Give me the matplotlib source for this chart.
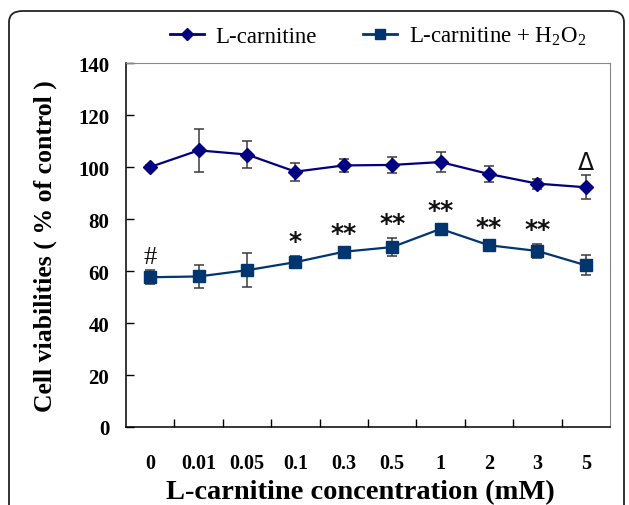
import matplotlib
matplotlib.use("Agg")
import matplotlib.pyplot as plt
from matplotlib.patches import FancyBboxPatch
from matplotlib.lines import Line2D

# ---- data
doses = ["0", "0.01", "0.05", "0.1", "0.3", "0.5", "1", "2", "3", "5"]

lcar_mean = [100.0, 106.4, 104.8, 98.2, 100.6, 100.8, 101.9, 97.3, 93.6, 92.2]
lcar_err = [0.8, 8.4, 5.2, 3.5, 2.5, 3.2, 3.7, 3.0, 1.9, 4.6]

h2o2_mean = [57.6, 57.9, 60.3, 63.4, 67.4, 69.2, 76.2, 69.9, 67.7, 62.2]
h2o2_err = [2.6, 4.3, 6.6, 2.4, 1.6, 3.6, 1.6, 1.4, 2.7, 3.8]

# significance marks above each point
h2o2_marks = ["#", "", "", "*", "**", "**", "**", "**", "**", ""]
lcar_marks = ["", "", "", "", "", "", "", "", "", "\u0394"]

plt.rcParams["font.family"] = ["Liberation Serif", "DejaVu Serif"]
plt.rcParams["mathtext.fontset"] = "custom"
plt.rcParams["mathtext.rm"] = "Liberation Serif"

C_LCAR = "#000080"
C_H2O2 = "#003570"
C_ERR = "#3a3a3a"

fig = plt.figure(figsize=(6.29, 5.06), dpi=100)

# rounded outer frame (runs off the bottom of the picture)
W, H = 629.0, 506.0
frame = FancyBboxPatch((9 / W, -0.05), (624 - 9) / W, (H - 12) / H + 0.05,
                       boxstyle="round,pad=0,rounding_size=0.022",
                       transform=fig.transFigure, fill=False,
                       edgecolor="#222222", linewidth=1.3, clip_on=False)
fig.patches.append(frame)

ax = fig.add_axes([126 / W, 1 - 428 / H, (610 - 126) / W, (428 - 64) / H])

x = list(range(len(doses)))

ax.errorbar(x, lcar_mean, yerr=lcar_err, color=C_LCAR, marker="D",
            markersize=7, linewidth=1.6, ecolor=C_ERR, elinewidth=1.1,
            capsize=3.5, capthick=1.1, zorder=3)
ax.errorbar(x, h2o2_mean, yerr=h2o2_err, color=C_H2O2, marker="s",
            markersize=8, linewidth=1.6, ecolor=C_ERR, elinewidth=1.1,
            capsize=3.5, capthick=1.1, zorder=3)

for i, m in enumerate(h2o2_marks):
    if not m:
        continue
    star = m.startswith("*")
    ax.annotate(m, (i, h2o2_mean[i] + h2o2_err[i]), xytext=(0, 2),
                textcoords="offset points", ha="center", va="bottom",
                fontsize=18 if star else 19,
                fontweight="bold" if star else "normal",
                color="#111111",
                family=["DejaVu Sans"] if star else None)
for i, m in enumerate(lcar_marks):
    if m:
        ax.annotate(m, (i, lcar_mean[i] + lcar_err[i]), xytext=(0, 1),
                    textcoords="offset points", ha="center", va="bottom",
                    fontsize=17, color="#111111", family=["DejaVu Sans"])

ax.set_xlim(-0.5, len(doses) - 0.5)
ax.set_ylim(0, 140)
ax.set_yticks(range(0, 141, 20))
ax.set_yticklabels([str(v) for v in range(0, 141, 20)],
                   fontweight="bold", fontsize=15)

# category labels centred on points, tick marks between categories
ax.set_xticks([i + 0.5 for i in x[:-1]])
ax.set_xticklabels([])
ax.set_xticks(x, minor=True)
ax.set_xticklabels(doses, minor=True, fontweight="bold", fontsize=14.5)
ax.tick_params(axis="x", which="minor", length=0, pad=19)
ax.tick_params(axis="x", which="major", direction="in", length=6, width=1)
ax.tick_params(axis="y", direction="in", length=6, width=1, pad=12)

for s in ["top", "right"]:
    ax.spines[s].set_color("#888888")
    ax.spines[s].set_linewidth(0.8)
for s in ["left", "bottom"]:
    ax.spines[s].set_linewidth(1.1)

ax.set_xlabel("L-carnitine concentration (mM)", fontsize=20.5,
              fontweight="bold")
ax.xaxis.set_label_coords(0.485, -0.142)
ax.set_ylabel("Cell viabilities ( % of control )", fontsize=18.5,
              fontweight="bold", labelpad=15)

handles = [
    Line2D([], [], color=C_LCAR, marker="D", markersize=6, linewidth=2),
    Line2D([], [], color=C_H2O2, marker="s", markersize=7, linewidth=2),
]
fig.legend(handles, ["L-carnitine", "L-carnitine + H$_2$O$_2$"],
           loc="center", bbox_to_anchor=(378 / W, 1 - 37 / H), ncol=2,
           frameon=False, fontsize=16.5, handlelength=1.5,
           columnspacing=2.0, handletextpad=0.5)

fig.savefig("out.png", dpi=100)
